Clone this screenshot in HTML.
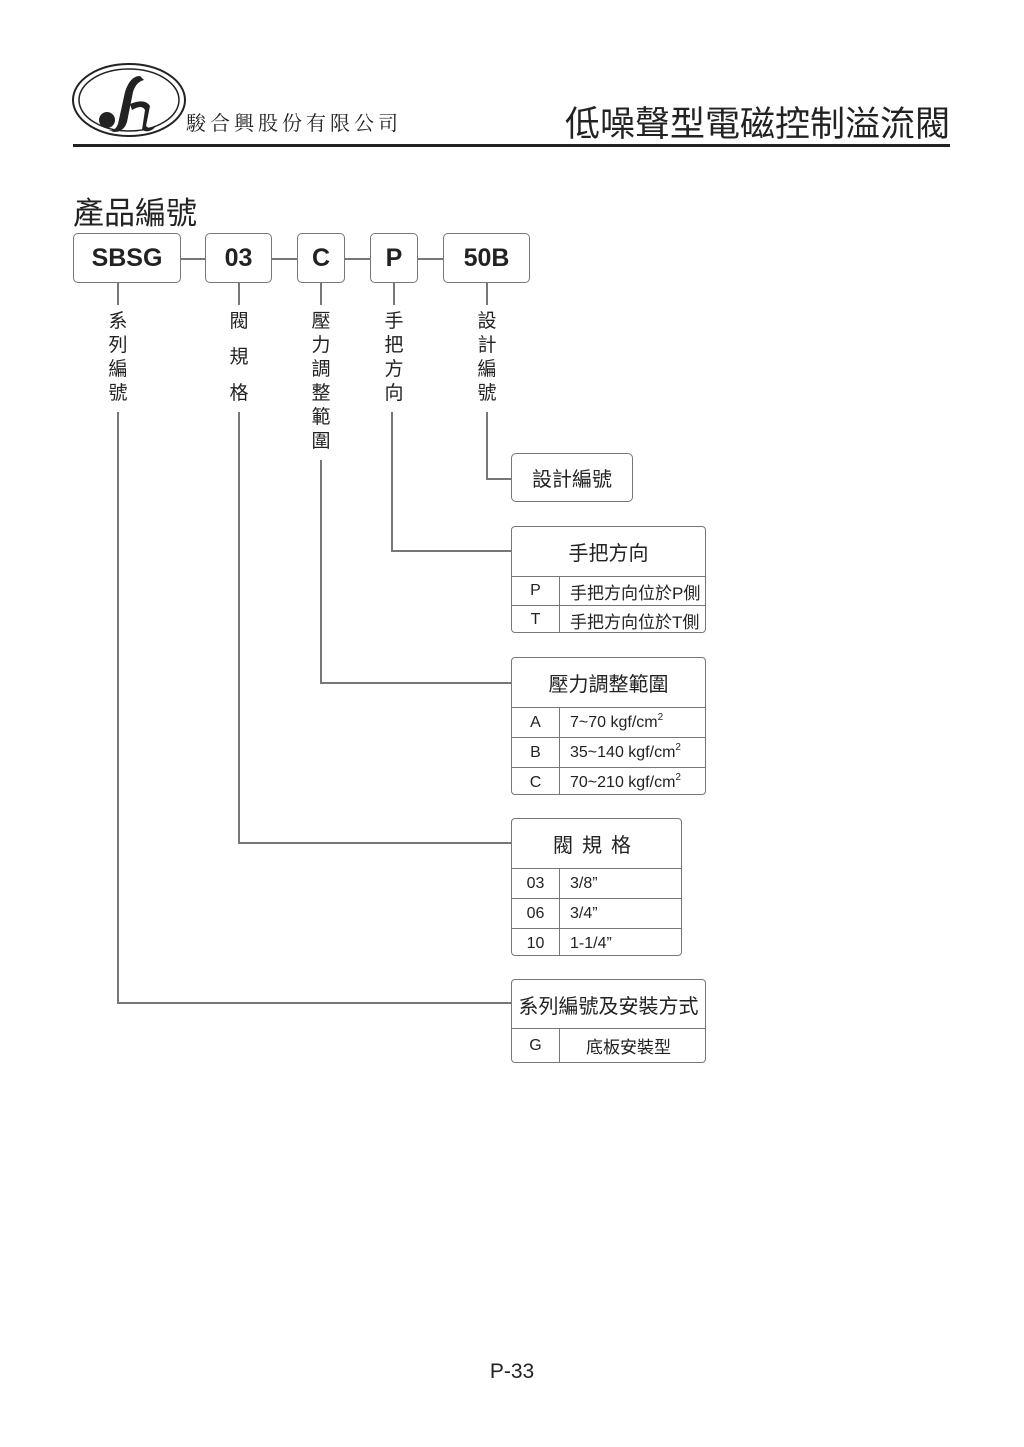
<!DOCTYPE html>
<html><head><meta charset="utf-8"><style>
body{margin:0;width:1024px;height:1447px;background:#fff;position:relative;font-family:"Liberation Sans","Noto Sans CJK TC",sans-serif;color:#222;overflow:hidden}
.a{position:absolute}
.b{position:absolute;border:1.5px solid #777;border-radius:5px;box-sizing:border-box;background:#fff}
.top{display:flex;align-items:center;justify-content:center;font-weight:bold;font-size:25px;color:#222}
.h{position:absolute;background:#777;height:1.5px}
.v{position:absolute;background:#777;width:1.5px}
.vt{position:absolute;font-size:19px;width:24px;text-align:center;line-height:24px}
.tb{position:absolute;box-sizing:border-box;border:1.5px solid #777;border-radius:4px;overflow:hidden;background:#fff}
.tb .hd{display:flex;align-items:center;justify-content:center;font-size:20px;border-bottom:1.5px solid #777}
.tb .r{display:flex;font-size:16px;border-bottom:1.5px solid #777;align-items:center}
.tb .r:last-child{border-bottom:none}
.tb .c1{width:47px;text-align:center;border-right:1.5px solid #777;height:100%;display:flex;align-items:center;justify-content:center}
.tb .c2{padding-left:10px}
.tb .z{font-size:17px;padding-left:10px}
sup{font-size:10px;vertical-align:7px;line-height:0}
</style></head><body>
<svg class="a" style="left:70px;top:62px" width="120" height="78">
<ellipse cx="59" cy="38" rx="56" ry="36" fill="none" stroke="#222" stroke-width="2"/>
<ellipse cx="59" cy="38" rx="50" ry="31" fill="none" stroke="#222" stroke-width="1.5"/>
<circle cx="37" cy="58" r="8" fill="#222"/>
<path d="M70 14 Q60 14 55 30 L48 62 Q45 70 38 68 L44 70 Q54 70 57 60 L63 30 Q66 20 74 18 Z" fill="#222"/>
<path d="M60 42 Q75 36 80 44 L76 64 Q80 68 86 64 Q80 72 72 68 L75 48 Q72 42 62 48 Z" fill="#222"/>
</svg>
<div class="a" style="left:186px;top:107px;font-family:'Noto Serif CJK SC',serif;font-size:20px;letter-spacing:4px">駿合興股份有限公司</div>
<div class="a" style="right:74px;top:96px;font-size:35px;color:#222">低噪聲型電磁控制溢流閥</div>
<div class="a" style="left:73px;top:144px;width:877px;height:3px;background:#222"></div>
<div class="a" style="left:73px;top:188px;font-size:31px">產品編號</div>

<div class="b top" style="left:73px;top:233px;width:108px;height:50px">SBSG</div>
<div class="b top" style="left:205px;top:233px;width:67px;height:50px">03</div>
<div class="b top" style="left:297px;top:233px;width:48px;height:50px">C</div>
<div class="b top" style="left:370px;top:233px;width:48px;height:50px">P</div>
<div class="b top" style="left:443px;top:233px;width:87px;height:50px">50B</div>
<div class="h" style="left:181px;top:258px;width:24px"></div>
<div class="h" style="left:272px;top:258px;width:25px"></div>
<div class="h" style="left:345px;top:258px;width:25px"></div>
<div class="h" style="left:418px;top:258px;width:25px"></div>

<div class="v" style="left:117px;top:283px;height:22px"></div>
<div class="v" style="left:238px;top:283px;height:22px"></div>
<div class="v" style="left:320px;top:283px;height:22px"></div>
<div class="v" style="left:393px;top:283px;height:22px"></div>
<div class="v" style="left:486px;top:283px;height:22px"></div>

<div class="vt" style="left:106px;top:310px">系<br>列<br>編<br>號</div>
<div class="vt" style="left:227px;line-height:36px;top:304px">閥<br>規<br>格</div>
<div class="vt" style="left:309px;top:310px">壓<br>力<br>調<br>整<br>範<br>圍</div>
<div class="vt" style="left:382px;top:310px">手<br>把<br>方<br>向</div>
<div class="vt" style="left:475px;top:310px">設<br>計<br>編<br>號</div>

<div class="v" style="left:117px;top:412px;height:591px"></div><div class="h" style="left:117px;top:1002px;width:394px"></div>
<div class="v" style="left:238px;top:412px;height:431px"></div><div class="h" style="left:238px;top:842px;width:273px"></div>
<div class="v" style="left:320px;top:460px;height:223px"></div><div class="h" style="left:320px;top:682px;width:191px"></div>
<div class="v" style="left:391px;top:412px;height:139px"></div><div class="h" style="left:391px;top:550px;width:120px"></div>
<div class="v" style="left:486px;top:412px;height:67px"></div><div class="h" style="left:486px;top:478px;width:25px"></div>

<div class="b" style="left:511px;top:453px;width:122px;height:49px;display:flex;align-items:center;justify-content:center;font-size:20px">設計編號</div>

<div class="tb" style="left:511px;top:526px;width:195px;height:107px">
<div class="hd" style="height:49px">手把方向</div>
<div class="r" style="height:28px"><div class="c1">P</div><div class="z">手把方向位於P側</div></div>
<div class="r" style="height:28px"><div class="c1">T</div><div class="z">手把方向位於T側</div></div>
</div>

<div class="tb" style="left:511px;top:657px;width:195px;height:138px">
<div class="hd" style="height:49px">壓力調整範圍</div>
<div class="r" style="height:29px"><div class="c1">A</div><div class="c2">7~70 kgf/cm<sup>2</sup></div></div>
<div class="r" style="height:29px"><div class="c1">B</div><div class="c2">35~140 kgf/cm<sup>2</sup></div></div>
<div class="r" style="height:29px"><div class="c1">C</div><div class="c2">70~210 kgf/cm<sup>2</sup></div></div>
</div>

<div class="tb" style="left:511px;top:818px;width:171px;height:138px">
<div class="hd" style="height:49px;letter-spacing:9px">閥規格</div>
<div class="r" style="height:29px"><div class="c1">03</div><div class="c2">3/8”</div></div>
<div class="r" style="height:29px"><div class="c1">06</div><div class="c2">3/4”</div></div>
<div class="r" style="height:29px"><div class="c1">10</div><div class="c2">1-1/4”</div></div>
</div>

<div class="tb" style="left:511px;top:979px;width:195px;height:84px">
<div class="hd" style="height:48px">系列編號及安裝方式</div>
<div class="r" style="height:33px"><div class="c1">G</div><div class="z" style="padding-left:26px">底板安裝型</div></div>
</div>

<div class="a" style="left:0;width:1024px;text-align:center;top:1360px;font-size:21px">P-33</div>
</body></html>
